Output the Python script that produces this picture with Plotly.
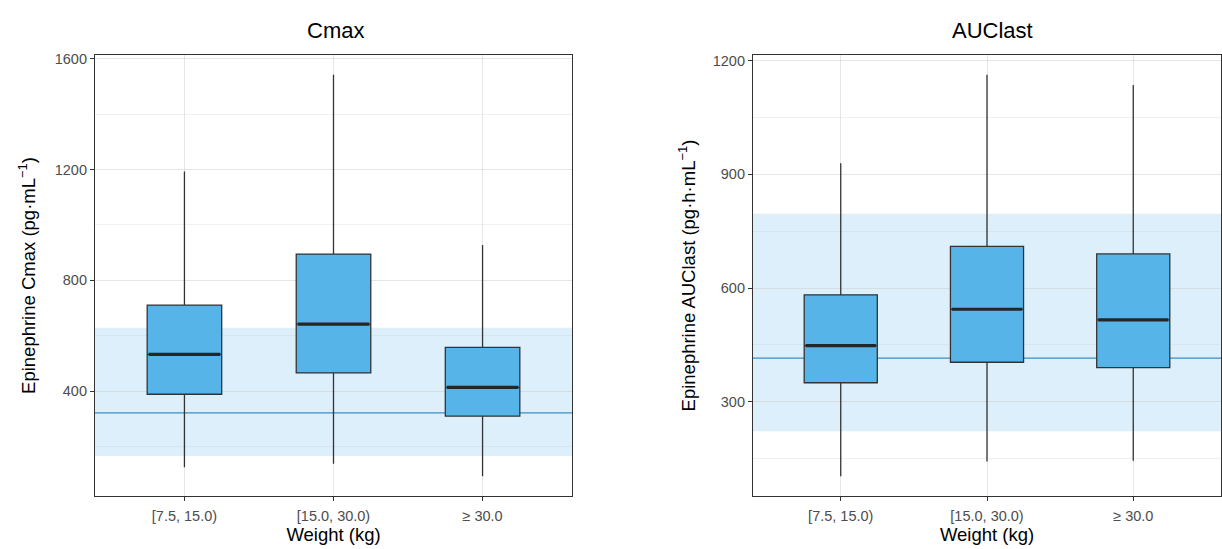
import plotly.graph_objects as go

# Weight groups
weight_groups = ["[7.5, 15.0)", "[15.0, 30.0)", "≥ 30.0"]

# Cmax summary statistics per weight group (pg/mL)
cmax_low = [126, 138, 93]
cmax_q1 = [389, 466, 310]
cmax_median = [533, 642, 414]
cmax_q3 = [711, 895, 558]
cmax_high = [1193, 1542, 928]
cmax_ref_band = [166, 629]
cmax_ref_line = 322

# AUClast summary statistics per weight group (pg*h/mL)
auc_low = [103, 142, 144]
auc_q1 = [350, 404, 390]
auc_median = [448, 544, 516]
auc_q3 = [582, 710, 690]
auc_high = [929, 1163, 1136]
auc_ref_band = [222, 796]
auc_ref_line = 415

FONT = "Liberation Sans, Arial, sans-serif"
BOX_FILL = "#56B4E9"
EDGE = "#333333"
BOX_W = 0.5

fig = go.Figure()

panels = [
    ("x", "y", cmax_low, cmax_q1, cmax_median, cmax_q3, cmax_high),
    ("x2", "y2", auc_low, auc_q1, auc_median, auc_q3, auc_high),
]
pos = list(range(len(weight_groups)))

for xa, ya, lo, q1, med, q3, hi in panels:
    fig.add_trace(go.Box(
        x=pos, q1=q1, median=med, q3=q3, lowerfence=lo, upperfence=hi,
        width=BOX_W, whiskerwidth=0, boxpoints=False,
        fillcolor=BOX_FILL, line=dict(color=EDGE, width=1.3),
        xaxis=xa, yaxis=ya, showlegend=False, hoverinfo="skip",
    ))
    # thicker median bars
    for p, m in zip(pos, med):
        fig.add_trace(go.Scatter(
            x=[p - BOX_W / 2 + 0.01, p + BOX_W / 2 - 0.01], y=[m, m],
            mode="lines", line=dict(color="#262626", width=3.2),
            xaxis=xa, yaxis=ya, showlegend=False, hoverinfo="skip",
        ))


def padded(lo, hi):
    a, b = min(lo), max(hi)
    pad = (b - a) * 0.05
    return [a - pad, b + pad]


# reference bands and lines
for xa, ya, band, line in [("x", "y", cmax_ref_band, cmax_ref_line),
                           ("x2", "y2", auc_ref_band, auc_ref_line)]:
    fig.add_shape(type="rect", xref=f"{xa} domain", yref=ya,
                  x0=0, x1=1, y0=band[0], y1=band[1],
                  fillcolor="#DDEFFB", line=dict(width=0),
                  layer="below")
    fig.add_shape(type="line", xref=f"{xa} domain", yref=ya,
                  x0=0, x1=1, y0=line, y1=line,
                  line=dict(color="#3B8FC8", width=1.3), layer="below")

W, H = 1222, 549
y_dom = [(H - 496) / H, (H - 51) / H]

xcommon = dict(
    tickmode="array", tickvals=pos, ticktext=weight_groups,
    range=[-0.6, 2.6], showgrid=True, gridcolor="rgba(200,200,200,0.45)", gridwidth=1,
    zeroline=False, showline=True, mirror=True, linecolor=EDGE, linewidth=1.2,
    ticks="outside", ticklen=4, tickcolor=EDGE, ticklabelstandoff=2,
    tickfont=dict(family=FONT, size=14.5, color="#4D4D4D"),
    title=dict(text="Weight (kg)", font=dict(family=FONT, size=18.5, color="black"), standoff=5),
)
ycommon = dict(
    showgrid=True, gridcolor="rgba(200,200,200,0.45)", gridwidth=1,
    zeroline=False, showline=True, mirror=True, linecolor=EDGE, linewidth=1.2,
    ticks="outside", ticklen=4, tickcolor=EDGE,
    tickfont=dict(family=FONT, size=14.5, color="#4D4D4D"),
    domain=y_dom,
)

fig.update_layout(
    width=W, height=H,
    margin=dict(l=0, r=0, t=0, b=0),
    paper_bgcolor="white", plot_bgcolor="rgba(0,0,0,0)",
    font=dict(family=FONT),
    xaxis=dict(xcommon, domain=[95 / W, 572 / W]),
    xaxis2=dict(xcommon, domain=[753 / W, 1221 / W], anchor="y2"),
    yaxis=dict(ycommon, anchor="x", range=padded(cmax_low, cmax_high),
               tickvals=[400, 800, 1200, 1600],
               minor=dict(tickvals=[200, 600, 1000, 1400], showgrid=True,
                          gridcolor="rgba(200,200,200,0.25)", ticks=""),
               title=dict(text="Epinephrine Cmax (pg·mL<sup>−1</sup>)",
                          font=dict(family=FONT, size=18.5, color="black"), standoff=14)),
    yaxis2=dict(ycommon, anchor="x2", range=padded(auc_low, auc_high),
                tickvals=[300, 600, 900, 1200],
                minor=dict(tickvals=[150, 450, 750, 1050], showgrid=True,
                           gridcolor="rgba(200,200,200,0.25)", ticks=""),
                title=dict(text="Epinephrine AUClast (pg·h·mL<sup>−1</sup>)",
                           font=dict(family=FONT, size=18.5, color="black"), standoff=12)),
    annotations=[
        dict(text="Cmax", x=335 / W, y=(H - 27) / H, xref="paper", yref="paper",
             xanchor="center", yanchor="middle",
             showarrow=False, font=dict(family=FONT, size=22, color="black")),
        dict(text="AUClast", x=992 / W, y=(H - 27) / H, xref="paper", yref="paper",
             xanchor="center", yanchor="middle",
             showarrow=False, font=dict(family=FONT, size=22, color="black")),
    ],
)

fig.write_html("out.html")
